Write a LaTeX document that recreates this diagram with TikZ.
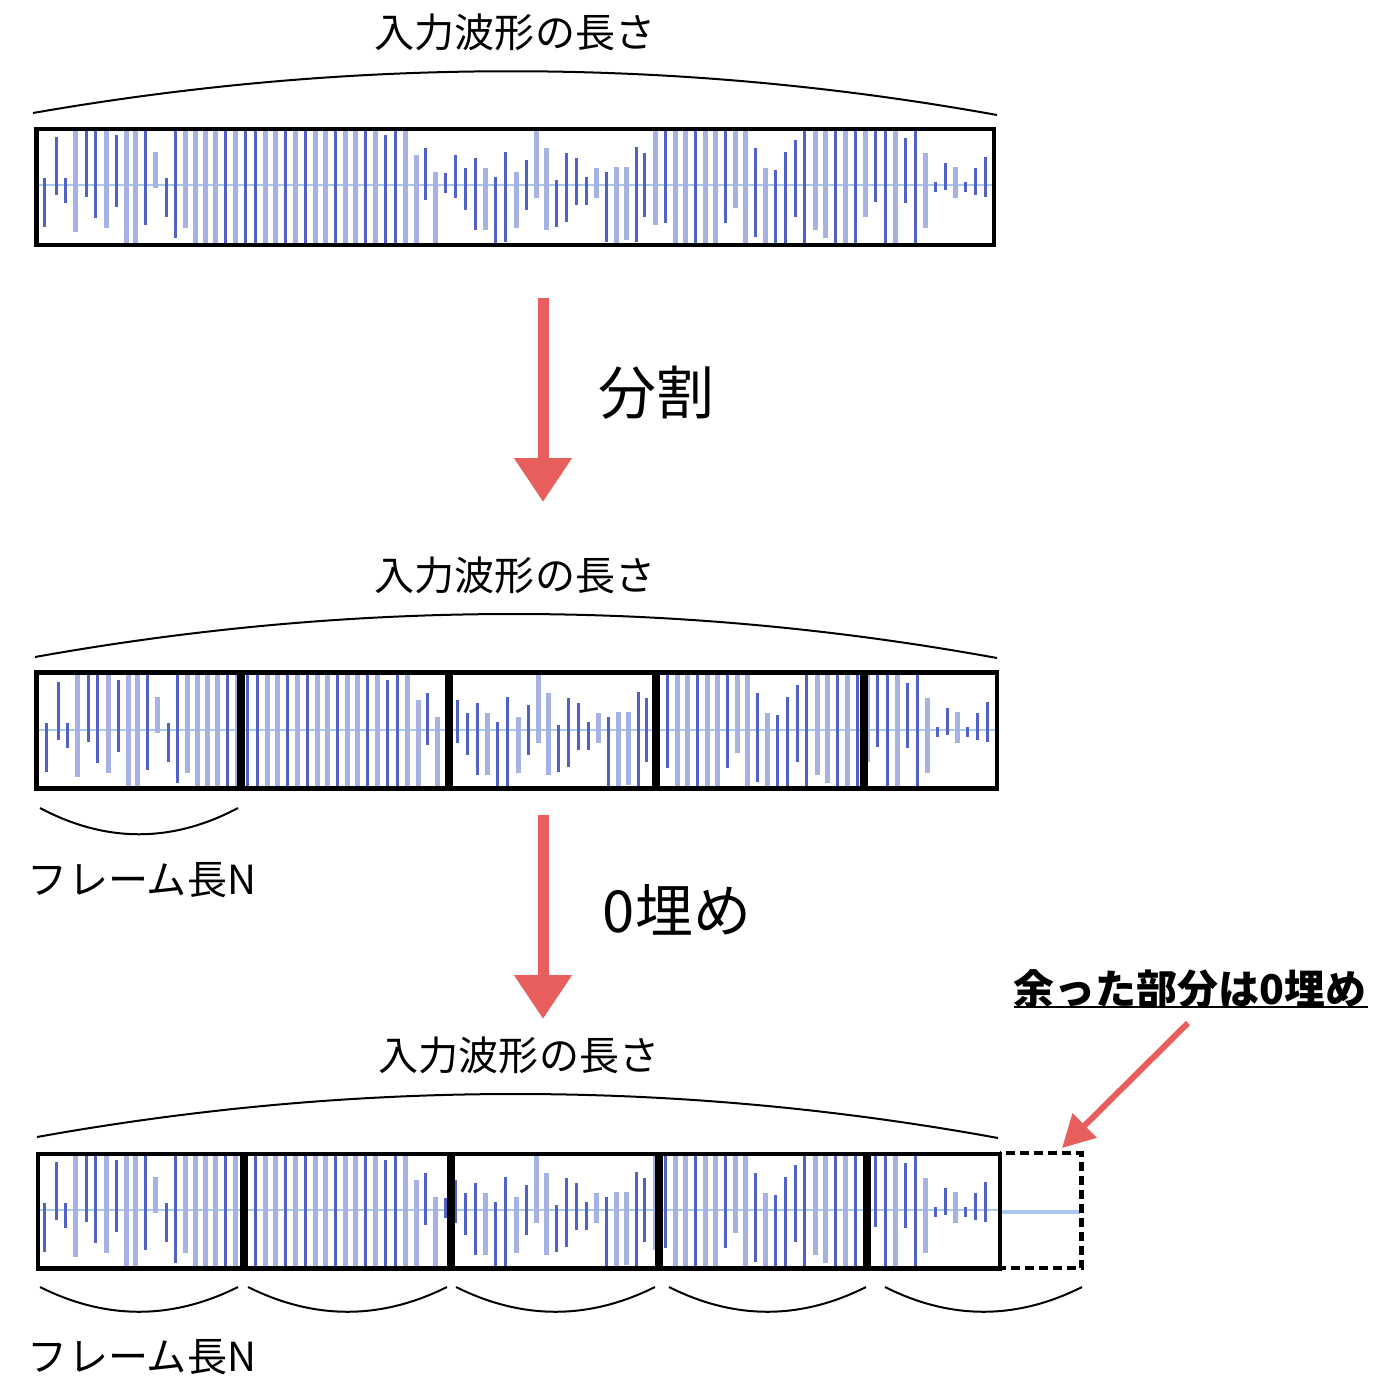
\documentclass[tikz,border=0pt]{standalone}
\usepackage{fontspec}
\setmainfont{Noto Sans CJK JP}
\usetikzlibrary{arrows.meta}
\definecolor{wavedark}{RGB}{82,98,196}
\definecolor{wavelight}{RGB}{168,178,226}
\definecolor{zeroline}{RGB}{168,200,240}
\definecolor{chalkred}{RGB}{232,94,92}
\newcommand{\wavedata}{44/-7/42/darkbar, 56/-48/10/darkbar, 65/-7/18/darkbar, 75/-60/47/lightbar,
	86/-60/12/darkbar, 95/-60/33/darkbar, 106/-60/43/lightbar, 116/-50/22/darkbar,
	126/-60/62/lightbar, 135/-60/62/lightbar, 145/-60/40/darkbar, 155/-33/3/lightbar,
	166/-7/32/darkbar, 175/-60/53/darkbar, 185/-60/43/lightbar, 195/-60/62/lightbar,
	205/-60/62/lightbar, 215/-60/62/lightbar, 225/-60/62/darkbar, 235/-60/62/lightbar,
	245/-60/62/darkbar, 255/-60/62/darkbar, 265/-60/62/lightbar, 275/-60/62/lightbar,
	285/-60/62/darkbar, 295/-60/62/lightbar, 305/-60/62/darkbar, 315/-60/62/lightbar,
	325/-60/62/lightbar, 335/-60/62/darkbar, 345/-60/62/lightbar, 355/-60/62/lightbar,
	365/-60/62/darkbar, 375/-60/62/lightbar, 385/-50/62/darkbar, 395/-60/62/darkbar,
	405/-60/62/lightbar, 416/-30/62/lightbar, 425/-37/15/darkbar, 435/-13/62/lightbar,
	445/-12/8/darkbar, 455/-30/13/darkbar, 465/-17/25/darkbar, 475/-27/45/darkbar,
	485/-17/45/lightbar, 495/-8/62/darkbar, 505/-33/57/darkbar, 516/-13/43/lightbar,
	526/-25/25/darkbar, 536/-60/13/lightbar, 546/-37/45/lightbar, 556/-5/42/darkbar,
	566/-32/37/darkbar, 576/-27/20/darkbar, 586/-8/20/darkbar, 596/-17/13/lightbar,
	606/-13/57/darkbar, 616/-18/62/lightbar, 626/-18/55/lightbar, 636/-38/57/darkbar,
	644/-32/32/darkbar, 655/-60/40/lightbar, 665/-60/38/darkbar, 675/-60/62/lightbar,
	685/-60/62/lightbar, 695/-60/62/darkbar, 705/-60/62/lightbar, 715/-60/62/lightbar,
	725/-60/38/darkbar, 735/-60/23/lightbar, 745/-60/62/lightbar, 755/-37/52/darkbar,
	765/-17/62/lightbar, 775/-15/62/darkbar, 785/-33/62/darkbar, 795/-45/32/darkbar,
	804/-60/62/darkbar, 815/-60/45/lightbar, 825/-60/53/lightbar, 835/-60/62/darkbar,
	845/-60/62/lightbar, 855/-60/62/darkbar, 865/-60/32/lightbar, 875/-60/17/darkbar,
	885/-60/62/darkbar, 895/-60/62/lightbar, 905/-47/18/darkbar, 915/-60/62/darkbar,
	925/-32/43/lightbar, 935/-3/7/darkbar, 945/-22/5/darkbar, 955/-18/13/lightbar,
	965/-3/7/darkbar, 975/-17/10/darkbar, 985/-28/12/darkbar}

\begin{document}
\begin{tikzpicture}[x=0.02cm, y=-0.02cm,
		darkbar/.style={wavedark, line width=0.06cm},
		lightbar/.style={wavelight, line width=0.1cm},
		midline/.style={zeroline, line width=0.03cm},
		frame/.style={draw=black, line width=0.09cm},
		brace/.style={black, line width=0.04cm},
		chalk/.style={chalkred, line width=0.22cm, -{Triangle[length=0.88cm, width=1.1cm]}},
		pointer/.style={chalkred, line width=0.12cm, -{Triangle[length=0.64cm, width=0.66cm]}},
		caption/.style={inner sep=0pt, font=\fontsize{22.8}{26}\selectfont},
		bigcaption/.style={inner sep=0pt, font=\fontsize{33}{38}\selectfont},
		notecaption/.style={inner sep=0pt, font=\fontsize{23.3}{26}\selectfont\bfseries}]
		\useasboundingbox (0, 0) rectangle (1388, 1400);
		\node(LEN1) at (515, 32)[caption]{入力波形の長さ};
		\draw[brace] (33, 113) .. controls (354, 57) and (676, 57) .. (997, 115);
		\begin{scope}
			\clip (36.5, 129) rectangle (994, 245);
			\draw[midline] (36, 185)--(994, 185);
			\foreach \xx/\yt/\yb/\st in \wavedata
				\draw[\st] (\xx, \yt+185)--(\xx, \yb+185);
		\end{scope}
		\draw[frame] (36.5, 129) rectangle (994, 245);
		\coordinate(D1) at (543, 298);
		\coordinate(D2) at (543, 502);
		\draw[chalk] (D1)--(D2);
		\node(SPLIT) at (656, 393)[bigcaption]{分割};
		\node(LEN2) at (515, 575)[caption]{入力波形の長さ};
		\draw[brace] (35, 657) .. controls (356, 599.5) and (676, 599.5) .. (997, 658);
		\begin{scope}
			\clip (36.5, 672.5) rectangle (997, 788.5);
			\draw[midline] (36, 730)--(997, 730);
			\foreach \xx/\yt/\yb/\st in \wavedata
				\draw[\st] (\xx+2, \yt+730)--(\xx+2, \yb+730);
		\end{scope}
		\foreach \fa/\fb in {36.5/239, 243/447, 451/654, 658/862, 866/997}
			\draw[frame] (\fa, 672.5) rectangle (\fb, 788.5);
		\draw[brace] (40, 808) .. controls (106, 843) and (172, 843) .. (238, 808);
		\node(FRAME2) at (142, 880)[caption]{フレーム長N};
		\coordinate(Z1) at (543, 815);
		\coordinate(Z2) at (543, 1019);
		\draw[chalk] (Z1)--(Z2);
		\node(PAD) at (677, 910)[bigcaption]{0埋め};
		\node(NOTE) at (1190, 989)[notecaption]{余った部分は0埋め};
		\coordinate(U1) at (1014, 1007);
		\coordinate(U2) at (1368, 1007);
		\draw[line width=0.05cm] (U1)--(U2);
		\coordinate(P1) at (1188, 1023);
		\coordinate(P2) at (1062, 1148);
		\draw[pointer] (P1)--(P2);
		\node(LEN3) at (519, 1055)[caption]{入力波形の長さ};
		\draw[brace] (37, 1137) .. controls (357, 1079.5) and (678, 1079.5) .. (998, 1138);
		\begin{scope}
			\clip (38, 1154) rectangle (1000, 1268.5);
			\draw[midline] (38, 1210)--(1000, 1210);
			\foreach \xx/\yt/\yb/\st in \wavedata
				\draw[\st] (\xx, \yt+1210)--(\xx, \yb+1210);
		\end{scope}
		\draw[zeroline, line width=0.07cm] (1002, 1212)--(1080, 1212);
		\draw[line width=0.09cm, dash pattern=on 0.18cm off 0.1cm] (1000, 1153) rectangle (1081.5, 1268);
		\foreach \fa/\fb in {38/242, 246/449, 453/657, 661/865, 869/1000}
			\draw[frame] (\fa, 1154) rectangle (\fb, 1268.5);
		\foreach \sa/\sb in {40/238, 248/447, 456/655, 669/866, 885/1082}
			\draw[brace] (\sa, 1287) .. controls ({\sa+(\sb-\sa)/3}, 1320) and ({\sa+2*(\sb-\sa)/3}, 1320) .. (\sb, 1287);
		\node(FRAME3) at (142, 1357)[caption]{フレーム長N};
\end{tikzpicture}
\end{document}
